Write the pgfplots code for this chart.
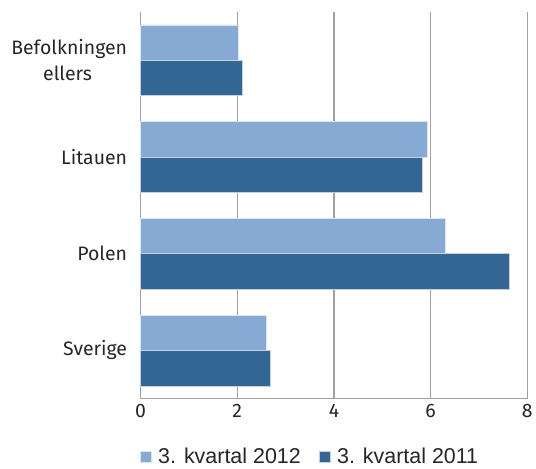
\documentclass[border=0pt]{standalone}
\usepackage{pgfplots}
\pgfplotsset{compat=1.18}
\usepackage{fontspec}
\setmainfont{Fira Sans}
\newfontfamily\legfont{Liberation Sans}
\definecolor{light}{RGB}{134,170,212}
\definecolor{dark}{RGB}{52,103,150}
\definecolor{gridc}{RGB}{160,160,160}
\begin{document}
\begin{tikzpicture}
\begin{axis}[
  scale only axis,
  width=388pt, height=388pt,
  xbar,
  xmin=0, xmax=8,
  ymin=-0.5, ymax=3.5,
  xtick={0,2,4,6,8},
  ytick={0,1,2,3},
  yticklabels={Sverige,Polen,Litauen,{Befolkningen\\ellers\,}},
  yticklabel style={align=center, font=\fontsize{19.5}{26}\selectfont, text=black!85},
  xticklabel style={font=\fontsize{19.5}{24}\selectfont, text=black!85},
  /pgf/number format/assume math mode=true,
  axis x line*=bottom, axis y line*=left,
  axis line style={gridc, line width=1.2pt},
  x axis line style={-}, y axis line style={-},
  xmajorgrids, major grid style={gridc, line width=1.2pt},
  major tick length=0pt,
  yticklabel style={xshift=-10pt},
  xticklabel style={yshift=-2pt},
  bar width=35.5pt,
  legend style={at={(0.438,-0.149)}, anchor=center, legend columns=2, draw=none,
    font=\legfont\fontsize{21.5}{24}\selectfont, text=black!85,
    /tikz/every odd column/.append style={column sep=5pt},
    /tikz/every even column/.append style={column sep=16pt}},
  legend image code/.code={\fill[#1] (0pt,-6pt) rectangle (11pt,5pt);},
  clip=false,
]
\addplot[fill=light, draw=white!70!light, line width=0.5pt, bar shift=17.75pt]
  coordinates {(2.61,0) (6.31,1) (5.92,2) (2.02,3)};
\addlegendentry{3. kvartal 2012}
\addplot[fill=dark, draw=white!70!dark, line width=0.5pt, bar shift=-17.75pt]
  coordinates {(2.68,0) (7.63,1) (5.82,2) (2.11,3)};
\addlegendentry{3. kvartal 2011}
\end{axis}
\useasboundingbox ([xshift=-141pt,yshift=-66pt]current axis.south west) rectangle ([xshift=7pt,yshift=12pt]current axis.north east);
\end{tikzpicture}
\end{document}
